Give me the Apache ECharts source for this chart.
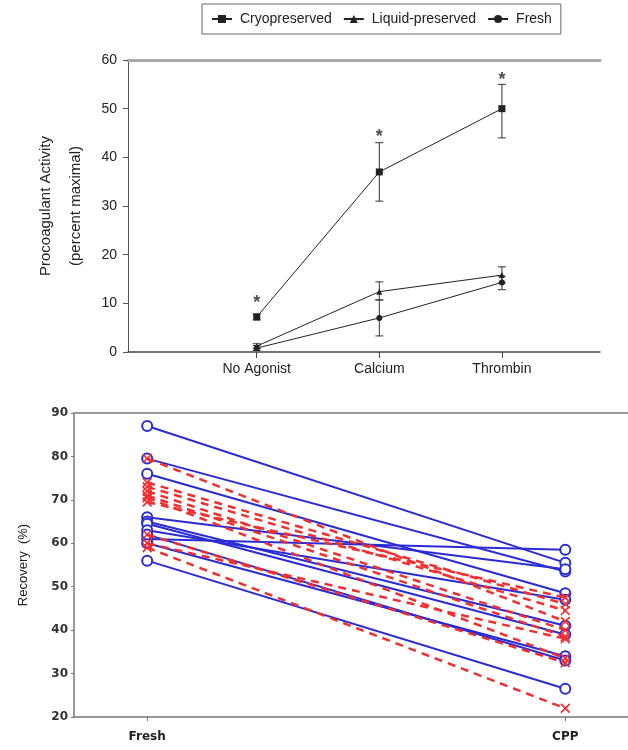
<!DOCTYPE html>
<html><head><meta charset="utf-8">
<script src="https://cdn.jsdelivr.net/npm/echarts@6/dist/echarts.min.js"></script>
<style>html,body{margin:0;padding:0;background:#fff}#c{width:628px;height:750px}</style>
</head><body><div id="c"></div>
<script>
// ---------- top chart data ----------
const topCategories = ['No Agonist', 'Calcium', 'Thrombin'];
const seriesNames = ['Cryopreserved', 'Liquid-preserved', 'Fresh'];
const cryoMean = [7.2, 37.0, 50.0];
const cryoLow = [6.6, 31.0, 44.0];
const cryoHigh = [7.8, 43.0, 55.0];
const liquidMean = [1.2, 12.4, 15.8];
const liquidLow = [0.7, 10.7, 14.2];
const liquidHigh = [1.7, 14.4, 17.5];
const freshMean = [0.8, 7.0, 14.3];
const freshLow = [0.3, 3.3, 12.8];
const freshHigh = [1.3, 10.7, 15.6];
const starValues = [10.8, 45.0, 56.8];

// ---------- bottom chart data ----------
const pairCategories = ['Fresh', 'CPP'];
const blueFresh = [87.0, 79.5, 76.0, 66.0, 65.0, 64.5, 63.0, 61.0, 60.0, 62.0, 56.0];
const blueCPP   = [55.5, 53.5, 48.5, 54.0, 41.0, 39.0, 47.0, 58.5, 34.0, 33.0, 26.5];
const redFresh  = [79.5, 74.0, 73.0, 72.0, 71.0, 70.5, 69.5, 62.0, 60.0, 59.0];
const redCPP    = [42.0, 46.0, 44.5, 40.0, 38.5, 33.5, 47.5, 32.5, 38.0, 22.0];

const chart = echarts.init(document.getElementById('c'), null, {renderer: 'canvas'});
const topFont = 'Liberation Sans, Arial, sans-serif';
const botFont = 'DejaVu Sans, sans-serif';
const ink = '#222';

function errorBars(low, high) {
  return {
    type: 'custom', xAxisIndex: 0, yAxisIndex: 0, z: 1, silent: true,
    data: low.map((l, i) => [i + 1, l, high[i]]),
    encode: {x: 0, y: [1, 2]},
    renderItem: function (params, api) {
      const x = api.value(0);
      const a = api.coord([x, api.value(1)]);
      const b = api.coord([x, api.value(2)]);
      const w = 4;
      const st = {stroke: '#333', lineWidth: 1};
      return {type: 'group', children: [
        {type: 'line', shape: {x1: a[0], y1: a[1], x2: b[0], y2: b[1]}, style: st},
        {type: 'line', shape: {x1: a[0] - w, y1: a[1], x2: a[0] + w, y2: a[1]}, style: st},
        {type: 'line', shape: {x1: b[0] - w, y1: b[1], x2: b[0] + w, y2: b[1]}, style: st}
      ]};
    }
  };
}

function meanLine(name, vals, symbol, size) {
  return {
    name: name, type: 'line', xAxisIndex: 0, yAxisIndex: 0, z: 3,
    data: vals.map((v, i) => [i + 1, v]),
    symbol: symbol, symbolSize: size,
    lineStyle: {color: ink, width: 1},
    itemStyle: {color: ink},
    animation: false
  };
}

const X_SYMBOL = 'path://M0,1.2L1.2,0L5,3.8L8.8,0L10,1.2L6.2,5L10,8.8L8.8,10L5,6.2L1.2,10L0,8.8L3.8,5Z';
const blue = '#2b2bd6';
const red = '#f03030';

const pairSeries = [];
const nPairs = Math.max(blueFresh.length, redFresh.length);
for (let i = 0; i < nPairs; i++) {
  if (i < blueFresh.length) {
    pairSeries.push({
      type: 'line', xAxisIndex: 2, yAxisIndex: 1, z: 2,
      data: [[1, blueFresh[i]], [2, blueCPP[i]]],
      symbol: 'emptyCircle', symbolSize: 10,
      lineStyle: {color: blue, width: 2},
      itemStyle: {color: blue, borderColor: blue, borderWidth: 1.5},
      animation: false
    });
  }
  if (i < redFresh.length) {
    pairSeries.push({
      type: 'line', xAxisIndex: 2, yAxisIndex: 1, z: 3,
      data: [[1, redFresh[i]], [2, redCPP[i]]],
      symbol: X_SYMBOL, symbolSize: 10,
      lineStyle: {color: red, width: 2.5, type: [8, 6]},
      itemStyle: {color: red},
      animation: false
    });
  }
}

const option = {
  backgroundColor: '#fff',
  animation: false,
  legend: {
    data: seriesNames,
    left: 202, top: 4,
    padding: [8, 9],
    itemGap: 11,
    itemWidth: 20, itemHeight: 10,
    borderColor: '#666', borderWidth: 1,
    textStyle: {fontFamily: topFont, fontSize: 14, color: '#222', padding: [0, 0, 0, 3]}
  },
  grid: [
    {left: 128, right: 28, top: 60, height: 292, outerBoundsMode: 'none'},
    {left: 74, right: 0, top: 413, height: 304, outerBoundsMode: 'none'}
  ],
  xAxis: [
    {
      type: 'value', gridIndex: 0, min: -0.05, max: 3.8,
      axisLine: {onZero: false, lineStyle: {color: '#444', width: 1.5}},
      axisTick: {show: true, customValues: [1, 2, 3], length: 6, lineStyle: {color: '#444'}},
      axisLabel: {customValues: [1, 2, 3], formatter: v => topCategories[Math.round(v) - 1],
                  fontFamily: topFont, fontSize: 14, color: '#222', margin: 10},
      splitLine: {show: false}
    },
    {
      type: 'value', gridIndex: 0, position: 'top', min: 0, max: 1,
      axisLine: {show: true, onZero: false, lineStyle: {color: '#aaa', width: 3}},
      axisTick: {show: false}, axisLabel: {show: false}, splitLine: {show: false}
    },
    {
      type: 'value', gridIndex: 1, min: 0.825, max: 2.15,
      axisLine: {onZero: false, lineStyle: {color: '#777', width: 1.5}},
      axisTick: {show: true, customValues: [1, 2], length: 4, lineStyle: {color: '#777'}},
      axisLabel: {customValues: [1, 2], formatter: v => pairCategories[Math.round(v) - 1],
                  fontFamily: botFont, fontWeight: 'bold', fontSize: 12, color: '#222', margin: 14},
      splitLine: {show: false}
    },
    {
      type: 'value', gridIndex: 1, position: 'top', min: 0, max: 1,
      axisLine: {show: true, onZero: false, lineStyle: {color: '#999', width: 2}},
      axisTick: {show: false}, axisLabel: {show: false}, splitLine: {show: false}
    }
  ],
  yAxis: [
    {
      type: 'value', gridIndex: 0, min: 0, max: 60, interval: 10,
      name: 'Procoagulant Activity\n(percent maximal)',
      nameLocation: 'middle', nameRotate: 90, nameGap: 34,
      nameTextStyle: {fontFamily: topFont, fontSize: 15, color: '#222', lineHeight: 30},
      axisLine: {show: true, onZero: false, lineStyle: {color: '#555', width: 1}},
      axisTick: {show: true, length: 5, lineStyle: {color: '#555'}},
      axisLabel: {fontFamily: topFont, fontSize: 14, color: '#222', margin: 11},
      splitLine: {show: false}
    },
    {
      type: 'value', gridIndex: 1, min: 20, max: 90, interval: 10,
      name: 'Recovery  (%)',
      nameLocation: 'middle', nameRotate: 90, nameGap: 44,
      nameTextStyle: {fontFamily: topFont, fontSize: 13, color: '#222'},
      axisLine: {show: true, onZero: false, lineStyle: {color: '#777', width: 1.5}},
      axisTick: {show: true, length: 3, lineStyle: {color: '#777'}},
      axisLabel: {fontFamily: botFont, fontWeight: 'bold', fontSize: 12, color: '#333', margin: 6},
      splitLine: {show: false}
    }
  ],
  series: [
    errorBars(cryoLow, cryoHigh),
    errorBars(liquidLow, liquidHigh),
    errorBars(freshLow, freshHigh),
    meanLine(seriesNames[0], cryoMean, 'rect', 7),
    meanLine(seriesNames[1], liquidMean, 'triangle', 6),
    meanLine(seriesNames[2], freshMean, 'circle', 6),
    {
      type: 'scatter', xAxisIndex: 0, yAxisIndex: 0, z: 4,
      data: starValues.map((v, i) => [i + 1, v]),
      symbol: 'circle', symbolSize: 1, itemStyle: {color: 'rgba(0,0,0,0)'},
      label: {show: true, formatter: '*', position: 'inside', offset: [0, 4],
              fontFamily: topFont, fontSize: 18, fontWeight: 'bold', color: '#222'}
    }
  ].concat(pairSeries)
};
chart.setOption(option);
</script>
</body></html>
